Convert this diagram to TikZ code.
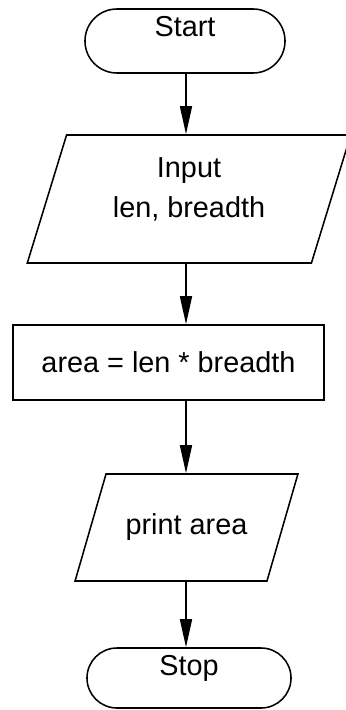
\documentclass[tikz,border=0pt]{standalone}
\usepackage{fontspec}
\setmainfont{Liberation Sans}
\usetikzlibrary{shapes.geometric,shapes.misc,arrows.meta}

\begin{document}
\begin{tikzpicture}[x=0.025cm, y=-0.025cm, line width=1.1pt,
    font=\fontsize{20.5}{28.5}\selectfont,
    terminal/.style={draw, rounded rectangle, minimum width=5cm, minimum height=1.6cm, text height=0.55cm, text depth=0.75cm, inner sep=0pt},
    io/.style={draw, trapezium, trapezium left angle=74, trapezium right angle=106, trapezium stretches=true, align=center, inner sep=2pt},
    process/.style={draw, rectangle, minimum width=7.775cm, minimum height=1.875cm},
    flow/.style={-{Triangle[length=0.7cm,width=0.3cm]}}]
\useasboundingbox (0,0) rectangle (345,710);
\node[terminal] (start) at (185,41) {Start};
\node[io, minimum width=8.1cm, minimum height=3.2cm, text depth=0.57cm] (input) at (189,199) {Input\\len, breadth};
\node[process] (calc) at (168.5,362.5) {area = len * breadth};
\node[io, trapezium left angle=53, trapezium right angle=127, minimum width=5.575cm, minimum height=2.675cm] (output) at (186.5,527.5) {print area};
\node[terminal, minimum width=5.1cm, minimum height=1.5cm, text depth=0.7cm] (stop) at (189,678) {Stop};
\coordinate (axis) at (186,0);
\draw[flow] (start.south -| axis) -- (input.north -| axis);
\draw[flow] (input.south -| axis) -- (calc.north -| axis);
\draw[flow] (calc.south -| axis) -- (output.north -| axis);
\draw[flow] (output.south -| axis) -- (stop.north -| axis);
\end{tikzpicture}
\end{document}
